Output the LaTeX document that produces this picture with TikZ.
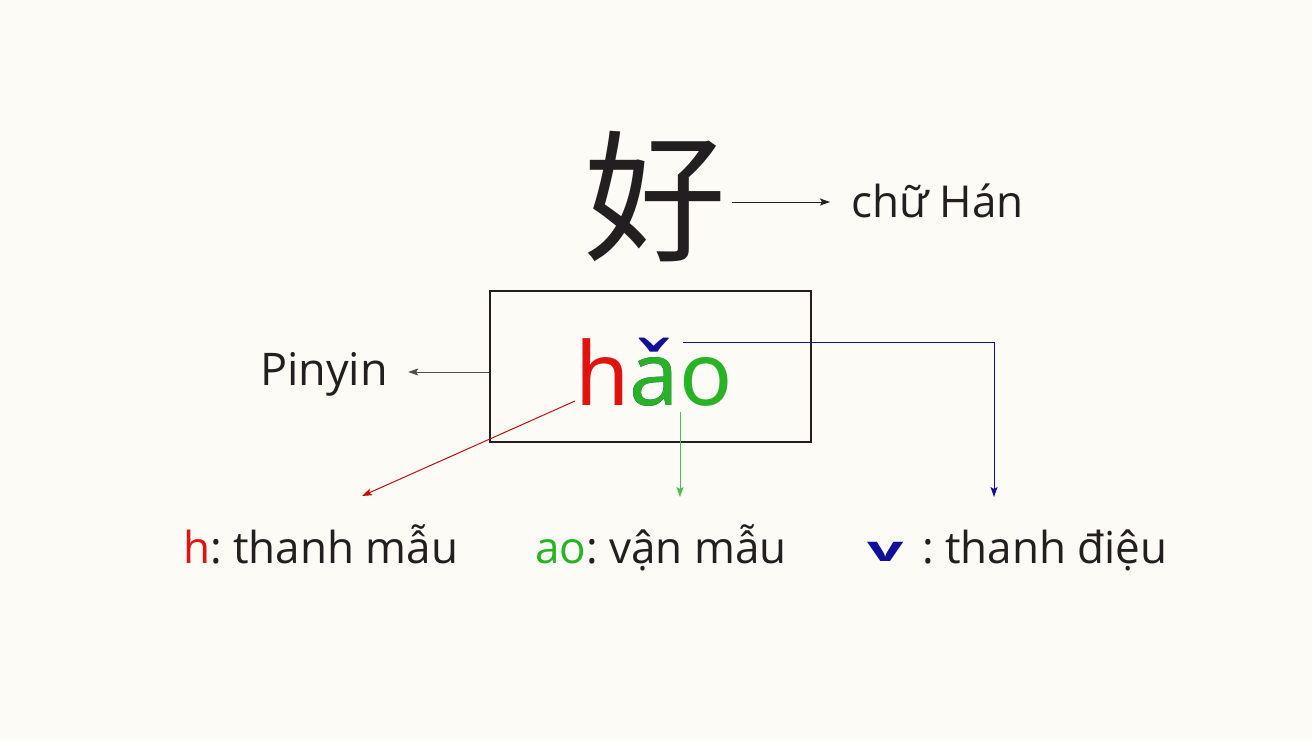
\documentclass[tikz,border=0pt]{standalone}
\usepackage{fontspec}
\setmainfont{Open Sans}
\newfontfamily\cjkfont{Noto Sans CJK SC}
\newfontfamily\pyfont{Noto Sans}
\usepackage{graphicx}
\usetikzlibrary{arrows.meta,positioning,calc}
\definecolor{paper}{HTML}{FCFBF6}
\definecolor{ink}{HTML}{231F20}
\definecolor{initialred}{HTML}{E0140F}
\definecolor{finalgreen}{HTML}{27B324}
\definecolor{toneblue}{HTML}{10109A}
\frenchspacing
\tikzset{
lbl/.style = {inner sep=0pt, text=ink, font=\fontsize{44}{44}\selectfont, anchor=base west},
hanzi/.style = {inner sep=0pt, text=ink, font=\cjkfont\fontsize{142}{142}\selectfont},
pybox/.style = {draw=ink, line width=1.4pt, minimum width=321pt, minimum height=151pt, inner sep=0pt},
conn/.style = {line width=1pt, ->}
}

\begin{document}
\begin{tikzpicture}[x=1pt,y=-1pt,>={Stealth[length=10pt,width=7pt,inset=2pt]}]
\fill[paper] (0,0) rectangle (1312,740);
% character and its name
\node[hanzi] (hanzi) at (655,197) {好};
\node[lbl] (hanlbl) at (851,217) {chữ Hán};
\draw[conn, ink, shorten >=21pt] ([shift={(6pt,-5pt)}]hanzi.east) -- ([yshift=-5pt]hanzi.east -| hanlbl.west);
% pinyin box
\node[pybox] (pybox) at (650.5,366.5) {};
\node[inner sep=0pt, anchor=base, font=\pyfont\fontsize{88}{88}\selectfont] (hao) at (654,405)
  {\textcolor{initialred}{h}\rlap{\textcolor{toneblue}{ǎ}}\textcolor{finalgreen}{ao}};
\node[lbl, font=\fontsize{45}{45}\selectfont] (pinyin) at (260,385) {Pinyin};
\draw[conn, ink!80, shorten >=20pt] ([yshift=-5.5pt]pybox.west) -- ([yshift=-5.5pt]pybox.west -| pinyin.east);
% parts
\node[lbl] (hlbl) at (183,563) {\textcolor{initialred}{h}: thanh mẫu};
\node[lbl] (aolbl) at (535,563) {\textcolor{finalgreen}{ao}: vận mẫu};
\node[lbl] (tonelbl) at (867,563) {\textcolor{toneblue}{\raisebox{2pt}{\scalebox{1.45}[0.8]{\bfseries v}}}\, : thanh điệu};
\coordinate (hfoot) at (575,401);
\coordinate (hend) at (362,496);
\coordinate (aofoot) at (680,412);
\coordinate (aoend) at (680,497);
\coordinate (tonefoot) at (683,342);
\coordinate (toneend) at (994,497);
\draw[conn, initialred!85!black] (hfoot) -- (hend);
\draw[conn, finalgreen!85!white] (aofoot) -- (aoend);
\draw[conn, toneblue] (tonefoot) -| (toneend);
\end{tikzpicture}
\end{document}
